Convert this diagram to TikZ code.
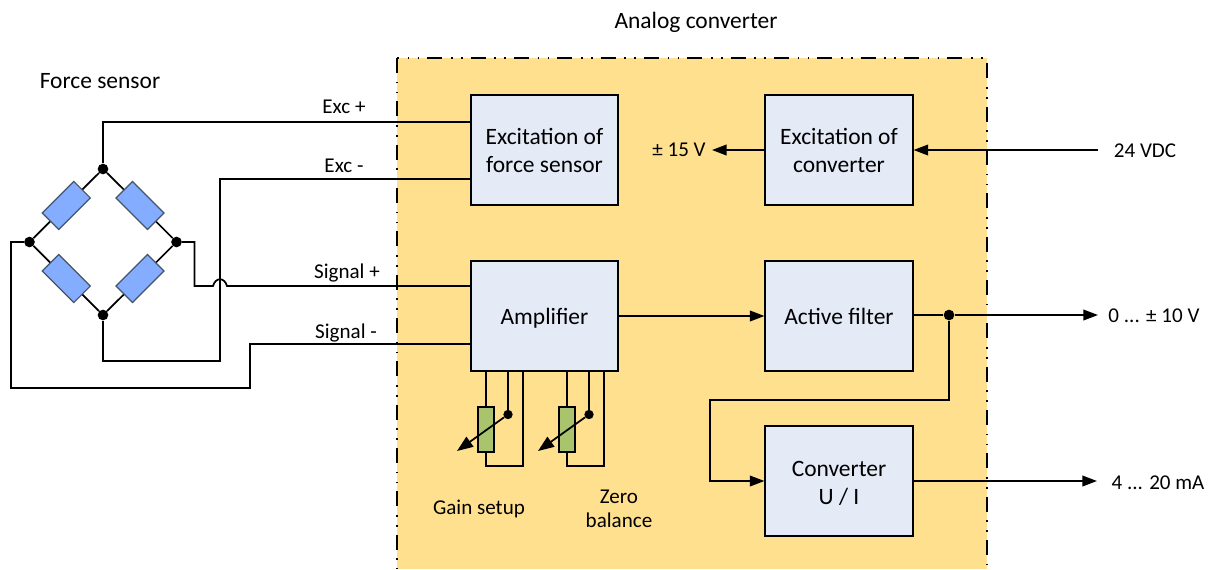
\documentclass[tikz,border=0pt]{standalone}
\usepackage{fontspec}
\setmainfont{Carlito}
\usetikzlibrary{arrows.meta}
\definecolor{panelyellow}{HTML}{FFE08F}
\definecolor{boxblue}{HTML}{E4EBF6}
\definecolor{resblue}{HTML}{85ADFF}
\definecolor{resgreen}{HTML}{A9C46C}
\definecolor{resedge}{HTML}{44546A}
\tikzset{
  block/.style={draw=black,line width=1.3pt,fill=boxblue,minimum width=110.5pt,minimum height=82.5pt,inner sep=0pt,align=center,font=\fontsize{17.6}{21}\selectfont},
  wire/.style={draw=black,line width=1.3pt},
  arrowwire/.style={wire,-{Triangle[length=11pt,width=8pt]}},
  wiperwire/.style={wire,-{Triangle[length=12pt,width=9pt]}},
  joint/.style={circle,fill=black,inner sep=0pt,minimum size=8pt},
  gauge/.style={draw=resedge,line width=.9pt,fill=resblue,minimum width=33.5pt,minimum height=17.5pt,inner sep=0pt},
  trim/.style={draw=black,line width=1.3pt,fill=resgreen,minimum width=11.5pt,minimum height=33.5pt,inner sep=0pt},
  biglab/.style={inner sep=0pt,align=center,font=\fontsize{17.6}{21}\selectfont},
  lab/.style={inner sep=0pt,align=center,font=\fontsize{15.8}{18}\selectfont},
  border/.style={draw=black,line width=1.1pt,dash pattern=on 11.25pt off 6.6pt on 1.1pt off 6.4pt on 1.1pt off 6.05pt}
}
\begin{document}
\begin{tikzpicture}[x=0.75pt,y=-0.75pt]
\useasboundingbox (0,0) rectangle (1209,569);
% panel
\fill[panelyellow] (397,58) rectangle (987,569);
\draw[border,dash phase=9.75pt] (397,58) -- (987,58);
\draw[border] (397,58) -- (397,569);
\draw[border,dash phase=28.5pt] (987,58) -- (987,569);
% blocks
\node[block] (exf) at (544.5,150) {Excitation of\\force sensor};
\node[block] (exc) at (839,150) {Excitation of\\converter};
\node[block,text depth=0pt] (amp) at (544.5,316) {Amplifier};
\node[block] (fil) at (839,316) {Active filter};
\node[block] (cvt) at (839,481) {\rule{0pt}{15pt}Converter\\U / I};
% bridge
\node[joint] (jT) at (103,169) {};
\node[joint] (jL) at (29.5,242) {};
\node[joint] (jR) at (176.5,242) {};
\node[joint] (jB) at (103,315) {};
\node[gauge,rotate=45] (g1) at (66.3,205.5) {};
\node[gauge,rotate=-45] (g2) at (140,205.5) {};
\node[gauge,rotate=-45] (g3) at (66.3,278.5) {};
\node[gauge,rotate=45] (g4) at (140,278.5) {};
\draw[wire] (jT) -- (g1) -- (jL) -- (g3) -- (jB) -- (g4) -- (jR) -- (g2) -- (jT);
% labels
\node[biglab] (tAC) at (696,22) {Analog converter};
\node[biglab] (tFS) at (100,81) {Force sensor};
\node[lab] (tE1) at (344,107) {Exc +};
\node[lab] (tE2) at (344,166) {Exc -};
\node[lab] (tS1) at (347,273) {Signal +};
\node[lab] (tS2) at (346,333) {Signal -};
\node[lab] (t15) at (679,150) {± 15 V};
\node[lab] (t24) at (1145,150.5) {24 VDC};
\node[lab] (t10) at (1154,315.5) {0 ... ± 10 V};
\node[lab] (t20) at (1158,483) {4 ... 20 mA};
\node[lab] (tG) at (479,509) {Gain setup};
\node[lab] (tZ) at (619,508.5) {Zero\\balance};
% bridge wiring
\coordinate (a1) at (103,122);
\coordinate (a2) at (471,122);
\draw[wire] (jT) -- (a1) -- (a2);
\coordinate (b1) at (471,179);
\coordinate (b2) at (220,179);
\coordinate (b3) at (220,361);
\coordinate (b4) at (103,361);
\draw[wire] (b1) -- (b2) -- (b3) -- (b4) -- (jB);
\coordinate (c1) at (194.5,242);
\coordinate (c2) at (194.5,286);
\coordinate (c3) at (213,286);
\coordinate (c4) at (227,286);
\coordinate (c5) at (471,286);
\draw[wire] (jR) -- (c1) -- (c2) -- (c3) .. controls (215.5,277) and (224.5,277) .. (c4) -- (c5);
\coordinate (d1) at (11,242);
\coordinate (d2) at (11,388);
\coordinate (d3) at (250,388);
\coordinate (d4) at (250,344);
\coordinate (d5) at (471,344);
\draw[wire] (jL) -- (d1) -- (d2) -- (d3) -- (d4) -- (d5);
% signal path
\coordinate (e1) at (1098,150);
\coordinate (e2) at (712,150);
\draw[arrowwire] (e1) -- (exc.east);
\draw[arrowwire] (exc.west) -- (e2);
\draw[arrowwire] (amp.east) -- (fil.west);
\node[joint] (jF) at (949,315) {};
\coordinate (f0) at (913,315);
\coordinate (f1) at (1098,315);
\draw[wire] (f0) -- (jF);
\draw[arrowwire] (jF) -- (f1);
\coordinate (f2) at (949,400);
\coordinate (f3) at (710,400);
\coordinate (f4) at (710,481);
\draw[arrowwire] (jF) -- (f2) -- (f3) -- (f4) -- (cvt.west);
\coordinate (f5) at (1097,481);
\draw[arrowwire] (cvt.east) -- (f5);
% trimmers
\node[trim] (r1) at (486,429.5) {};
\node[trim] (r2) at (567,429.5) {};
\node[joint,minimum size=7pt] (w1) at (508,414.5) {};
\node[joint,minimum size=7pt] (w2) at (589,414.5) {};
\coordinate (p1) at (486,371);
\coordinate (p2) at (508,371);
\coordinate (p3) at (523,371);
\coordinate (p4) at (523,466);
\coordinate (p5) at (486,466);
\draw[wire] (p1) -- (r1);
\draw[wire] (p2) -- (w1);
\draw[wire] (p3) -- (p4) -- (p5) -- (r1);
\coordinate (q1) at (567,371);
\coordinate (q2) at (589,371);
\coordinate (q3) at (604,371);
\coordinate (q4) at (604,466);
\coordinate (q5) at (567,466);
\draw[wire] (q1) -- (r2);
\draw[wire] (q2) -- (w2);
\draw[wire] (q3) -- (q4) -- (q5) -- (r2);
\coordinate (v1) at (457,451);
\coordinate (v2) at (538,451);
\draw[wiperwire] (w1) -- (v1);
\draw[wiperwire] (w2) -- (v2);
\end{tikzpicture}
\end{document}
